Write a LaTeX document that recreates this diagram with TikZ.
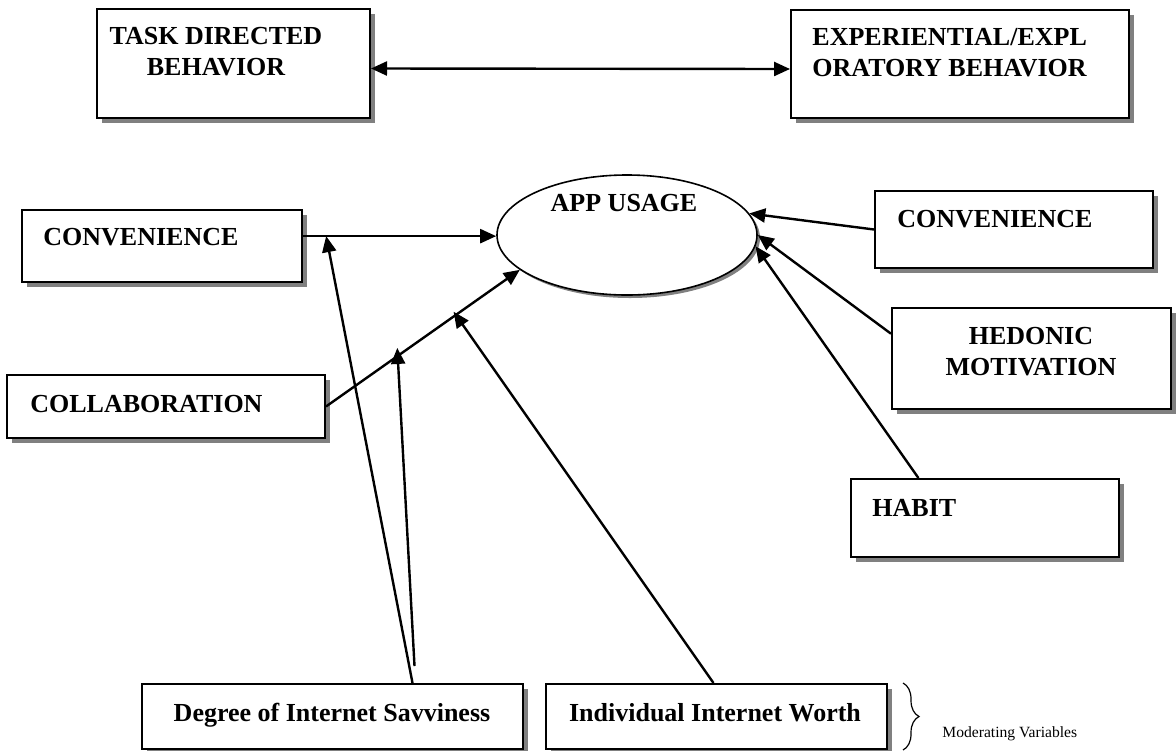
\documentclass[tikz,border=0pt]{standalone}
\usepackage{fontspec}
\setmainfont{Liberation Serif}
\usepackage{tikz}
\usetikzlibrary{arrows.meta,positioning,shapes.geometric,shadows,decorations.pathreplacing}

\begin{document}
\begin{tikzpicture}[
  x=0.5pt,y=-0.5pt,
  font=\fontsize{13}{15.5}\selectfont\bfseries,
  factor/.style={draw,fill=white,line width=1pt,inner sep=0pt,
    drop shadow={shadow xshift=2.5pt,shadow yshift=-2.5pt,fill=black!50,opacity=1}},
  outcome/.style={ellipse,draw,fill=white,line width=0.8pt,inner sep=0pt,
    minimum width=130pt,minimum height=60pt,
    drop shadow={shadow xshift=1.5pt,shadow yshift=-1.5pt,fill=black!50,opacity=1}},
  heading/.style={inner sep=0pt,align=center},
  note/.style={inner sep=0pt,font=\fontsize{7.8}{9}\selectfont},
  arrow/.style={-{Triangle[length=8pt,width=7pt]},line width=1.2pt},
  twoway/.style={{Triangle[length=8pt,width=7pt]}-{Triangle[length=8pt,width=7pt]},line width=1.2pt},
  brace/.style={decorate,decoration={brace,amplitude=8pt},line width=0.6pt}
]
\useasboundingbox (0,0) rectangle (1176,750);

% behaviour boxes
\node[factor,minimum width=136.5pt,minimum height=54.5pt] (task) at (233.5,63.5) {};
\node[factor,minimum width=169pt,minimum height=54pt] (expl) at (960,64) {};
\node[heading,anchor=north] (taskT) at (216,27) {TASK DIRECTED\\BEHAVIOR};
\node[heading,anchor=north west,align=left] (explT) at (812,28) {EXPERIENTIAL/EXPL\\ORATORY BEHAVIOR};

% outcome
\node[outcome] (app) at (627,235) {};
\node[heading,anchor=base] (appT) at (624,211) {APP USAGE};

% left factors
\node[factor,minimum width=140pt,minimum height=36pt] (convL) at (162,246) {};
\node[factor,minimum width=159pt,minimum height=31.5pt] (collab) at (166,406.5) {};
\node[heading,anchor=base west] (convLT) at (43,245) {CONVENIENCE};
\node[heading,anchor=base west] (collabT) at (30,412) {COLLABORATION};

% right factors
\node[factor,minimum width=139pt,minimum height=38.5pt] (convR) at (1014,229.5) {};
\node[factor,minimum width=139.5pt,minimum height=50.5pt] (hed) at (1031.5,358.5) {};
\node[factor,minimum width=134pt,minimum height=39pt] (habit) at (985,518) {};
\node[heading,anchor=base west] (convRT) at (897,227) {CONVENIENCE};
\node[heading,anchor=north] (hedT) at (1031,327) {HEDONIC\\MOTIVATION};
\node[heading,anchor=base west] (habitT) at (872,516) {HABIT};

% moderators
\node[factor,minimum width=190.5pt,minimum height=32.5pt] (deg) at (332.5,716.5) {};
\node[factor,minimum width=170.5pt,minimum height=32.5pt] (indiv) at (716.5,716.5) {};
\node[heading,anchor=base] (degT) at (332,721) {Degree of Internet Savviness};
\node[heading,anchor=base] (indivT) at (715,721) {Individual Internet Worth};
\draw[brace] ([xshift=7.5pt]indiv.north east) -- ([xshift=7.5pt]indiv.south east);
\node[note,anchor=base west] (modT) at (942,737) {Moderating Variables};

% connectors
\draw[twoway] ([yshift=-2.5pt]task.east) -- ([yshift=-2.5pt]expl.west);
\draw[arrow] (convL.4) -- (convL.4 -| app.west) coordinate[pos=0.12] (onConv);
\draw[arrow] (collab.east) -- (app.198) coordinate[pos=0.37] (onCollab) coordinate[pos=0.67] (onCollab2);
\draw[arrow] (convR.west) -- (app.10);
\draw[arrow] (hed.170) -- (app.east);
\draw[arrow] (habit.149) -- (app.-5);

\coordinate (degTop) at ([xshift=40pt]deg.north);
\coordinate (degTop2) at ([xshift=41pt,yshift=8.5pt]deg.north);
\draw[arrow] (degTop) -- (onConv);
\draw[arrow,shorten >=-4pt] (degTop2) -- (onCollab);
\draw[arrow,shorten >=-2pt] ([xshift=-1.5pt]indiv.north) -- (onCollab2);
\end{tikzpicture}
\end{document}
